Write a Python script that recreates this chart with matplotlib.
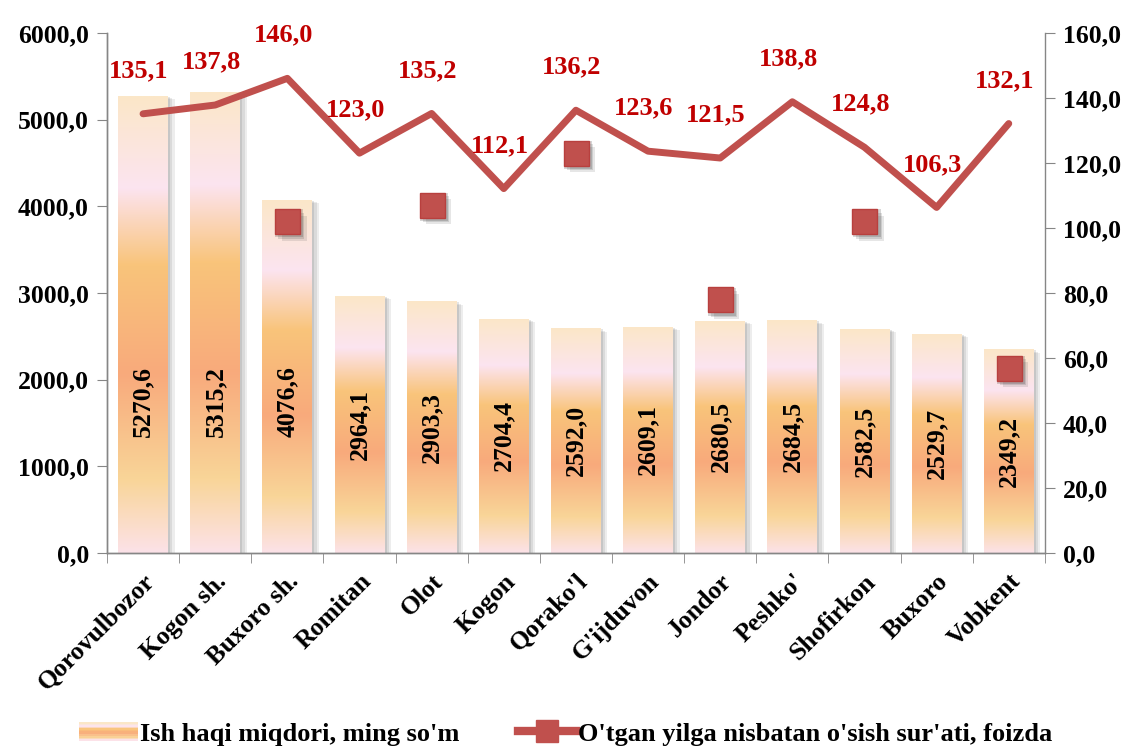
import numpy as np
import matplotlib
matplotlib.use('Agg')
from matplotlib import pyplot as plt
from matplotlib.colors import LinearSegmentedColormap
from matplotlib.patches import Rectangle
from matplotlib.lines import Line2D
from matplotlib.legend_handler import HandlerBase
import matplotlib.transforms as mtransforms
from matplotlib.ticker import FuncFormatter, MultipleLocator

plt.rcParams['font.family'] = ['Liberation Serif', 'DejaVu Serif']
plt.rcParams['font.weight'] = 'bold'

# data
districts = ['Qorovulbozor', 'Kogon sh.', 'Buxoro sh.', 'Romitan', 'Olot', 'Kogon',
             "Qorako'l", "G'ijduvon", 'Jondor', "Peshko'", 'Shofirkon', 'Buxoro', 'Vobkent']
wage = [5270.6, 5315.2, 4076.6, 2964.1, 2903.3, 2704.4, 2592.0, 2609.1,
        2680.5, 2684.5, 2582.5, 2529.7, 2349.2]
growth = [135.1, 137.8, 146.0, 123.0, 135.2, 112.1, 136.2, 123.6,
          121.5, 138.8, 124.8, 106.3, 132.1]
# stray square markers left in the original chart
stray_idx = [2, 4, 6, 8, 10, 12]
stray_val = [102.0, 107.0, 123.0, 78.0, 102.0, 57.0]

bar_label = 'Ish haqi miqdori, ming so\'m'
line_label = "O'tgan yilga nisbatan o'sish sur'ati, foizda"

LINE_C = '#C0504D'
LABEL_C = '#C00000'
AXIS_C = '#868686'

grad_cmap = LinearSegmentedColormap.from_list('bar', [
    (0.0, '#FCE2E8'),
    (0.16, '#F9D598'),
    (0.39, '#F8AA7C'),
    (0.63, '#F9C47A'),
    (0.80, '#FCE4F0'),
    (1.0, '#FBE7C8'),
])


def fmt(v, pos=None):
    return f'{v:.1f}'.replace('.', ',')


class GradHandler(HandlerBase):
    def create_artists(self, legend, orig_handle, xd, yd, w, h, fontsize, trans):
        arts = []
        k = 12
        for j in range(k):
            r = Rectangle((xd, yd + h * j / k), w, h / k + 0.3,
                          facecolor=grad_cmap(j / (k - 1)), edgecolor='none',
                          transform=trans)
            arts.append(r)
        return arts


fig = plt.figure(figsize=(11.32, 7.55), dpi=100)
ax = fig.add_axes([0.0945, 0.2675, 0.8285, 0.689])
ax2 = ax.twinx()

n = len(districts)
x = np.arange(n)
bw = 0.69
grad = np.linspace(0, 1, 256).reshape(-1, 1)

for i, h in enumerate(wage):
    # soft shadow
    for k, a in enumerate([0.10, 0.12, 0.15]):
        off = (3 - k) * 1.6
        tr = ax.transData + mtransforms.ScaledTranslation(off / 72, -off / 144, fig.dpi_scale_trans)
        ax.add_patch(Rectangle((i - bw / 2, 0), bw, h, facecolor='#555555',
                               edgecolor='none', alpha=a, transform=tr, zorder=1))
    rect = Rectangle((i - bw / 2, 0), bw, h, facecolor='none', edgecolor='none', zorder=2)
    ax.add_patch(rect)
    im = ax.imshow(grad, extent=[i - bw / 2, i + bw / 2, 0, h], aspect='auto',
                   cmap=grad_cmap, origin='lower', zorder=2, interpolation='bilinear')
    im.set_clip_path(rect)
    ax.text(i, min(h / 2, 1750), fmt(h), rotation=90, ha='center', va='center',
            fontsize=18.5, fontweight='bold', color='black', zorder=3)

ax.set_xlim(-0.5, n - 0.5)
ax.set_ylim(0, 6000)
ax.yaxis.set_major_locator(MultipleLocator(1000))
ax.yaxis.set_major_formatter(FuncFormatter(fmt))
ax.set_xticks(x)
ax.set_xticklabels(districts, rotation=45, ha='right', rotation_mode='anchor',
                   fontsize=18.5, fontweight='bold')
ax.set_xticks(np.arange(-0.5, n, 1), minor=True)
ax.tick_params(axis='x', which='major', length=0, pad=12)
ax.tick_params(axis='x', which='minor', length=7, color=AXIS_C)
ax.tick_params(axis='y', length=7, color=AXIS_C, labelsize=18.5, pad=6)
for lab in ax.get_yticklabels():
    lab.set_fontweight('bold')

ax2.set_ylim(0, 160)
ax2.yaxis.set_major_locator(MultipleLocator(20))
ax2.yaxis.set_major_formatter(FuncFormatter(fmt))
ax2.tick_params(axis='y', length=7, color=AXIS_C, labelsize=18.5, pad=6)
for lab in ax2.get_yticklabels():
    lab.set_fontweight('bold')

for a in (ax, ax2):
    a.spines['top'].set_visible(False)
    for s in ('left', 'right', 'bottom'):
        a.spines[s].set_color(AXIS_C)
        a.spines[s].set_linewidth(1.0)
ax.spines['right'].set_visible(False)

ax2.plot(x, growth, color=LINE_C, lw=5, solid_capstyle='round',
         solid_joinstyle='round', zorder=3)
for i, v in enumerate(growth):
    ax2.annotate(fmt(v), (i, v), xytext=(-3, 31), textcoords='offset points',
                 ha='center', va='center', color=LABEL_C, fontsize=19,
                 fontweight='bold', zorder=5)

# stray squares with shadow
xs = [x[i] for i in stray_idx]
for k, a in enumerate([0.12, 0.15, 0.2]):
    off = (3 - k) * 1.5
    tr = ax2.transData + mtransforms.ScaledTranslation(off / 72, -off / 72, fig.dpi_scale_trans)
    ax2.plot(xs, stray_val, linestyle='none', marker='s', markersize=18 + k,
             color='#333333', alpha=a, markeredgewidth=0, transform=tr, zorder=3)
ax2.plot(xs, stray_val, linestyle='none', marker='s', markersize=18,
         markerfacecolor=LINE_C, markeredgecolor='#B8403E', markeredgewidth=1,
         zorder=4)

handles = [Rectangle((0, 0), 1, 1),
           Line2D([], [], color=LINE_C, lw=6, marker='s', markersize=16,
                  markerfacecolor=LINE_C, markeredgecolor=LINE_C)]
fig.legend(handles, [bar_label, line_label], loc='center', bbox_to_anchor=(0.5, 0.028),
           ncol=2, frameon=False, columnspacing=2.2, handlelength=2.2,
           handletextpad=0.1, handler_map={Rectangle: GradHandler()},
           borderpad=0.1, prop={'weight': 'bold', 'size': 19})

fig.savefig('out.png', dpi=100)
